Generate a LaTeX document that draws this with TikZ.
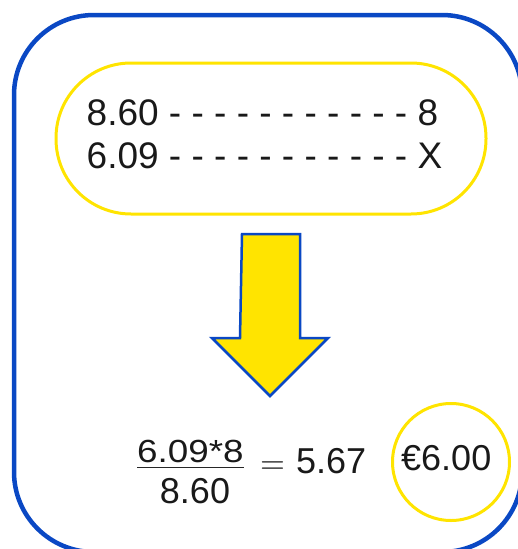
\documentclass[tikz,border=0pt]{standalone}
\usepackage{fontspec}
\setmainfont{Liberation Sans}
\usepackage{xcolor}
\usepackage{graphicx}
\usepackage{tikz}
\usetikzlibrary{positioning}

\definecolor{frameblue}{RGB}{10,72,196}
\definecolor{ringyellow}{RGB}{255,228,0}

\begin{document}
\begin{tikzpicture}[x=1pt,y=-1pt,
      big/.style={
            inner sep=0pt, text=black!90,
            font=\fontsize{36}{40}\selectfont
        },
      row/.style={big, anchor=base west, font=\fontsize{37}{42}\selectfont},
      ring/.style={draw=ringyellow, line width=3pt},
      frame/.style={draw=frameblue, line width=4.5pt, rounded corners=80pt},
      downarrow/.style={fill=ringyellow, draw=frameblue, line width=2.5pt}
      ]
    \useasboundingbox (0,0) rectangle (518,549);
    \clip (0,0) rectangle (518,549);

    \draw[frame] (14,15) rectangle (522,552);

    \node[ring, rounded corners=75pt, minimum width=430pt, minimum height=151pt] (P) at (271,138.5) {};
    \node[row] (A) at (86.5,125) {8.60 - - - - - - - - - - - 8};
    \node[row] (B) at (86.5,168) {6.09 - - - - - - - - - - - X};

    \draw[downarrow] (242,234) -- ++(58,0) -- ++(0,104) -- ++(28,0)
        -- ++(-58,58) -- ++(-58,-58) -- ++(28,0) -- cycle;

    \node[big, anchor=base west, font=\fontsize{32}{36}\selectfont\addfontfeatures{FakeStretch=1.15}] (N) at (137,462) {6.09*8};
    \node[big, anchor=base] (D) at (195,503) {8.60};
    \draw[line width=1.8pt, black!85] ([yshift=-5pt]N.south west) -- ([yshift=-5pt]N.south east);
    \node[big, anchor=base, font=\normalsize] (E) at (272.5,473.5) {\scalebox{3.2}{$=$}};
    \node[big, anchor=base west] (R) at (296,473) {5.67};

    \node[big, anchor=base west] (T) at (401,470) {€6.00};
    \node[ring, circle, minimum size=117pt] (C) at (451,462) {};
  \end{tikzpicture}
\end{document}
